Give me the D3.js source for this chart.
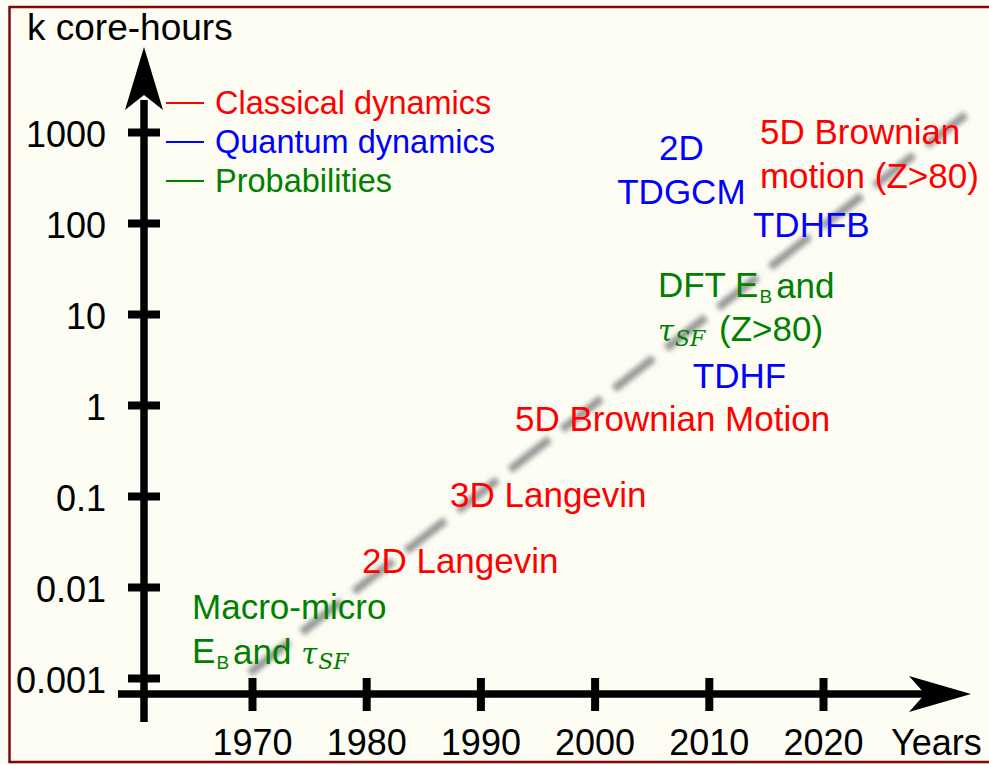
<!DOCTYPE html>
<html>

<head>
    <meta charset="utf-8">
    <script src="https://d3js.org/d3.v7.min.js"></script>
    <style>
        body { margin: 0; background: #fdfdf4; }
        text { font-family: "Liberation Sans", Arial, sans-serif; }
    </style>

    <script type="text/javascript">
        // values
        const yearTicks = [1970, 1980, 1990, 2000, 2010, 2020];
        const hourTicks = [0.001, 0.01, 0.1, 1, 10, 100, 1000];
        const hourTickLabels = ["0.001", "0.01", "0.1", "1", "10", "100", "1000"];

        const categories = ["Classical dynamics", "Quantum dynamics", "Probabilities"];

        // rough trend (dashed grey line)
        const trendYears = [1969.8, 2032.7];
        const trendHours = [0.00114, 1620];

        // methods: where the text sits (year of left edge / centre, k core-hours at first baseline)
        const methodNames = [
            ["Macro-micro", "E_{B}and $τ_{SF}$"],
            ["2D Langevin"],
            ["3D Langevin"],
            ["5D Brownian Motion"],
            ["TDHF"],
            ["DFT E_{B}and", "$τ_{SF}$ (Z>80)"],
            ["TDHFB"],
            ["2D", "TDGCM"],
            ["5D Brownian", "motion (Z>80)"]
        ];
        const methodCategory = [2, 0, 0, 0, 1, 2, 1, 1, 0];
        const methodYears = [1964.75, 1979.63, 1987.34, 1993.03, 2008.6, 2005.55, 2013.87, 2007.6, 2014.48];
        const methodHours = [0.00445, 0.01426, 0.0757, 0.518, 1.54, 15.4, 70.2, 492, 740];

        function draw() {
            let width = 989,
                height = 765;

            let colors = { "Classical dynamics": "#ff0000", "Quantum dynamics": "#0000ff", "Probabilities": "#008000" };
            let anchors = ["start", "start", "start", "start", "start", "start", "start", "middle", "start"];

            let svg = d3.select("body")
                .append("svg")
                .attr("width", width)
                .attr("height", height);

            svg.append("rect")
                .attr("x", 9.5).attr("y", 7)
                .attr("width", 995).attr("height", 755)
                .attr("fill", "#fdfdf4")
                .attr("stroke", "#7d0a0a")
                .attr("stroke-width", 2.5);

            let x = d3.scaleLinear().domain([1970, 2020]).range([252, 823]);
            let y = d3.scaleLog().domain([0.001, 1000]).range([678, 132]);

            let axisX = 144, axisY = 694;

            // blurred dashed trend
            let defs = svg.append("defs");
            defs.append("filter").attr("id", "blur")
                .attr("x", "-10%").attr("y", "-10%").attr("width", "120%").attr("height", "120%")
                .append("feGaussianBlur").attr("stdDeviation", 2.8);

            let trend = trendYears.map((d, i) => [x(d), y(trendHours[i])]);
            svg.append("path")
                .attr("d", d3.line()(trend))
                .attr("fill", "none")
                .attr("stroke", "#969696")
                .attr("stroke-width", 8)
                .attr("stroke-dasharray", "50,16")
                .attr("filter", "url(#blur)");

            // y axis
            let yAxis = d3.axisLeft(y)
                .tickValues(hourTicks)
                .tickFormat((d, i) => hourTickLabels[i])
                .tickSize(32)
                .tickPadding(22);
            let gy = svg.append("g")
                .attr("transform", `translate(${axisX + 16},0)`)
                .call(yAxis);
            gy.select(".domain").remove();
            gy.selectAll("line").attr("stroke", "#000").attr("stroke-width", 8);
            gy.selectAll("text").attr("font-size", 36).attr("fill", "#000")
                .attr("font-family", "Liberation Sans, Arial, sans-serif")
                .attr("dy", "0.4em");

            // x axis
            let xAxis = d3.axisBottom(x)
                .tickValues(yearTicks)
                .tickFormat(d3.format("d"))
                .tickSize(33)
                .tickPadding(18);
            let gx = svg.append("g")
                .attr("transform", `translate(0,${axisY - 16})`)
                .call(xAxis);
            gx.select(".domain").remove();
            gx.selectAll("line").attr("stroke", "#000").attr("stroke-width", 8);
            gx.selectAll("text").attr("font-size", 36).attr("fill", "#000")
                .attr("font-family", "Liberation Sans, Arial, sans-serif");

            // axis shafts and arrows
            svg.append("line")
                .attr("x1", axisX).attr("x2", axisX)
                .attr("y1", 722).attr("y2", 100)
                .attr("stroke", "#000").attr("stroke-width", 7.5);
            svg.append("path")
                .attr("d", `M${axisX},47 L${axisX - 19},110 L${axisX},95 L${axisX + 19},110 Z`)
                .attr("fill", "#000");

            svg.append("line")
                .attr("x1", 118).attr("x2", 930)
                .attr("y1", axisY).attr("y2", axisY)
                .attr("stroke", "#000").attr("stroke-width", 7.5);
            svg.append("path")
                .attr("d", `M971,${axisY} L909,${axisY - 18} L925,${axisY} L909,${axisY + 18} Z`)
                .attr("fill", "#000");

            svg.append("text")
                .attr("x", 27).attr("y", 40)
                .attr("font-size", 37)
                .text("k core-hours");
            svg.append("text")
                .attr("x", 891).attr("y", 755)
                .attr("font-size", 36)
                .text("Years");

            // legend
            let legend = svg.selectAll(".legend")
                .data(categories)
                .enter().append("g")
                .attr("class", "legend")
                .attr("transform", (d, i) => `translate(166,${103 + i * 39})`);
            legend.append("line")
                .attr("x1", 0).attr("x2", 38)
                .attr("stroke", d => colors[d])
                .attr("stroke-width", 2.2);
            legend.append("text")
                .attr("x", 49).attr("y", 11)
                .attr("font-size", 32.5)
                .attr("fill", d => colors[d])
                .text(d => d);

            // method labels
            function writeLine(sel, str, color) {
                let parts = str.split(/(\$τ_\{SF\}\$|_\{[^}]+\})/).filter(p => p !== "");
                let afterSub = false;
                parts.forEach(p => {
                    if (p.startsWith("$")) {
                        sel.append("tspan")
                            .attr("font-family", "DejaVu Serif, serif")
                            .attr("font-style", "italic")
                            .attr("font-size", 29)
                            .text("τ");
                        sel.append("tspan")
                            .attr("font-family", "DejaVu Serif, serif")
                            .attr("font-style", "italic")
                            .attr("font-size", 22)
                            .attr("dy", 5)
                            .attr("dx", 1)
                            .text("SF");
                        afterSub = true;
                    } else if (p.startsWith("_")) {
                        sel.append("tspan")
                            .attr("font-size", 19)
                            .attr("dy", 6)
                            .attr("dx", 1)
                            .text(p.slice(2, -1));
                        afterSub = true;
                    } else {
                        let t = sel.append("tspan").text(p);
                        if (afterSub) t.attr("dy", -5).attr("dx", 4);
                        afterSub = false;
                    }
                });
            }

            methodNames.forEach((lines, i) => {
                let color = colors[categories[methodCategory[i]]];
                lines.forEach((ln, j) => {
                    let t = svg.append("text")
                        .attr("x", x(methodYears[i]))
                        .attr("y", y(methodHours[i]) + j * 44)
                        .attr("font-size", 35)
                        .attr("fill", color)
                        .attr("text-anchor", anchors[i]);
                    writeLine(t, ln, color);
                });
            });
        };
    </script>
</head>

<body>
    <script type="text/javascript">
        draw();
    </script>
</body>

</html>
